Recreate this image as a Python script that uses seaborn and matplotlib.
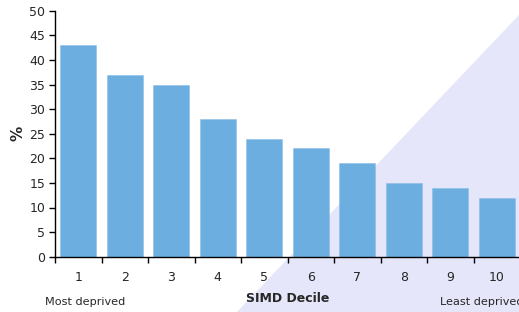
import numpy as np
import pandas as pd
import matplotlib.pyplot as plt
from matplotlib.patches import Polygon
import seaborn as sns

deciles = ['1', '2', '3', '4', '5', '6', '7', '8', '9', '10']
pct = [43, 37, 35, 28, 24, 22, 19, 15, 14, 12]
yticks = [0, 5, 10, 15, 20, 25, 30, 35, 40, 45, 50]

df = pd.DataFrame({'decile': deciles, 'pct': pct})

sns.set_style('ticks')
plt.rcParams['font.family'] = ['DejaVu Sans']

fig = plt.figure(figsize=(5.19, 3.12), dpi=100)
fig.patch.set_facecolor('white')
# lavender triangle in the lower right corner, behind the axes
tri = Polygon([(237 / 519, 0), (1, 1 - 15 / 312), (1, 0)], closed=True,
              transform=fig.transFigure, facecolor='#e6e6fa', edgecolor='none', zorder=-1)
fig.patches.append(tri)

ax = fig.add_axes([55 / 519, 1 - 256.7 / 312, 465 / 519, 246 / 312])
ax.patch.set_alpha(0)

sns.barplot(data=df, x='decile', y='pct', color='#6caee0', saturation=1,
            width=0.78, edgecolor='#8cc0e8', linewidth=0.4, ax=ax)

ax.set_xlim(-0.5, 9.5)
ax.set_ylim(0, 50)
ax.set_yticks(yticks)
ax.tick_params(axis='y', labelsize=9, length=4, width=1, color='black', pad=3)
ax.tick_params(axis='x', which='major', length=0, labelsize=9, pad=10)
ax.set_xticks(np.arange(-0.5, 10, 1), minor=True)
ax.tick_params(axis='x', which='minor', length=4, width=1, color='black')
sns.despine(ax=ax)
for s in ['left', 'bottom']:
    ax.spines[s].set_color('black')
    ax.spines[s].set_linewidth(1)

ax.set_xlabel('SIMD Decile', fontsize=9, fontweight='bold', labelpad=6)
ax.set_ylabel('%', fontsize=11, fontweight='bold', labelpad=3)

fig.text(45 / 519, 1 - 302 / 312, 'Most deprived', fontsize=8.1, va='center', ha='left')
fig.text(440 / 519, 1 - 302 / 312, 'Least deprived', fontsize=8.1, va='center', ha='left')

fig.savefig('out.png', dpi=100)
